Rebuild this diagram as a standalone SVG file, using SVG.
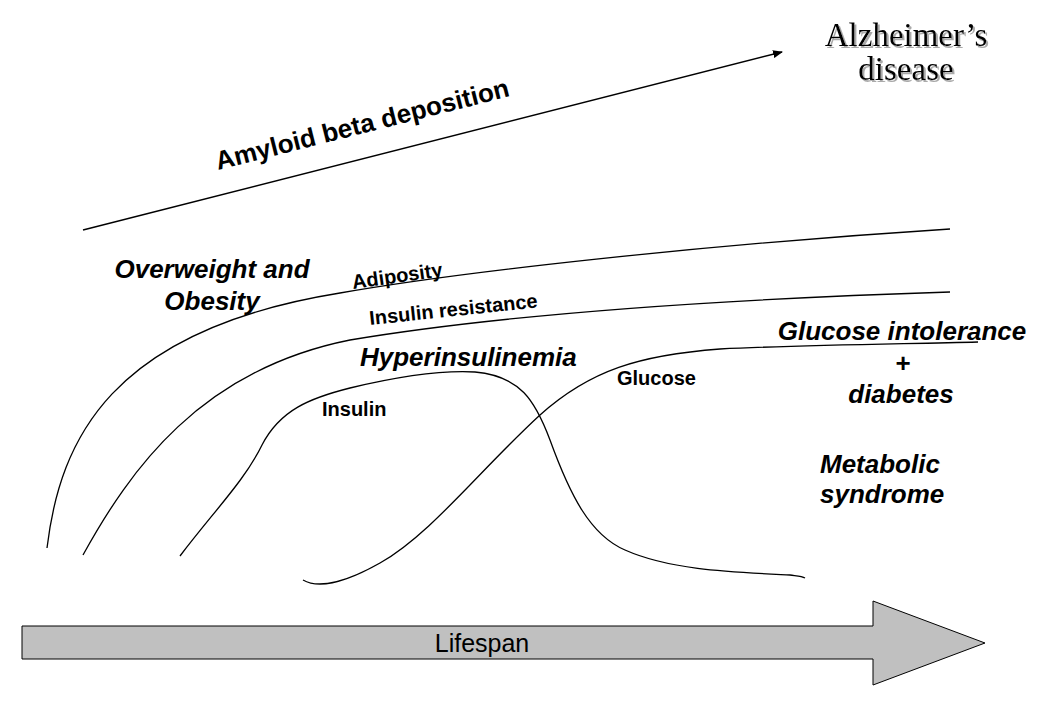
<svg xmlns="http://www.w3.org/2000/svg" width="1050" height="702" viewBox="0 0 1050 702">
<defs>
<marker id="ah" markerWidth="10" markerHeight="8" refX="9" refY="4" orient="auto" markerUnits="userSpaceOnUse">
<path d="M0,0 L10,4 L0,8 Z" fill="#000"/>
</marker>
<filter id="shadow" x="-10%" y="-20%" width="120%" height="140%">
<feOffset in="SourceAlpha" dx="2" dy="2" result="off"/>
<feFlood flood-color="#aaa"/>
<feComposite in2="off" operator="in" result="sh"/>
<feMerge><feMergeNode in="sh"/><feMergeNode in="SourceGraphic"/></feMerge>
</filter>
<style>
.curve{fill:none;stroke:#000;stroke-width:1.3}
.lbl{font-family:"Liberation Sans",Arial,sans-serif;font-weight:bold;font-size:20px;fill:#000}
.big{font-family:"Liberation Sans",Arial,sans-serif;font-weight:bold;font-style:italic;font-size:26px;fill:#000}
.serif{font-family:"Liberation Serif","Times New Roman",serif;font-size:33px;text-anchor:middle;fill:#000}
</style>
</defs>
<rect width="1050" height="702" fill="#fff"/>

<g id="connectors">
<line x1="83" y1="230" x2="782" y2="52" stroke="#000" stroke-width="1.5" marker-end="url(#ah)"/>
<path id="adiposity-curve" class="curve" d="M47,548 C60,440 110,330 340,293 C460,272 700,245 950,229"/>
<path id="resistance-curve" class="curve" d="M83,555 C130,470 200,370 350,340 C500,315 700,300 950,292"/>
<path id="insulin-curve" class="curve" d="M180,556 C215,510 245,480 262,445 C280,410 310,398 350,388 C400,376 440,370 475,372 C520,376 535,400 550,440 C570,495 590,535 625,550 C670,570 730,572 790,575 C798,576 802,576 805,578"/>
<path id="glucose-curve" class="curve" d="M303,580 C320,590 350,580 380,563 C430,535 480,470 540,415 C590,370 640,355 720,349 C800,345 900,344 978,342"/>
</g>

<g id="alzheimers" filter="url(#shadow)">
<text class="serif" x="906" y="46">Alzheimer’s</text>
<text class="serif" x="906" y="80">disease</text>
</g>

<g id="amyloid">
<text transform="translate(218,170) rotate(-14.2)" font-family="'Liberation Sans',Arial,sans-serif" font-weight="bold" font-size="26" fill="#000">Amyloid beta deposition</text>
</g>

<g id="overweight">
<text class="big" x="212" y="278" text-anchor="middle">Overweight and</text>
<text class="big" x="212" y="310" text-anchor="middle">Obesity</text>
</g>

<g id="adiposity">
<text class="lbl" transform="translate(353,289) rotate(-8)">Adiposity</text>
</g>

<g id="insulin-resistance">
<text class="lbl" transform="translate(370,325) rotate(-6)">Insulin resistance</text>
</g>

<g id="hyperinsulinemia">
<text class="big" x="360" y="366" font-size="25">Hyperinsulinemia</text>
</g>

<g id="insulin">
<text class="lbl" x="322" y="416">Insulin</text>
</g>

<g id="glucose">
<text class="lbl" x="617" y="385">Glucose</text>
</g>

<g id="glucose-intolerance">
<text class="big" x="902" y="340" text-anchor="middle">Glucose intolerance</text>
<text x="903" y="372" text-anchor="middle" font-family="'Liberation Sans',Arial,sans-serif" font-weight="bold" font-size="26" fill="#000">+</text>
<text class="big" x="901" y="403" text-anchor="middle">diabetes</text>
</g>

<g id="metabolic">
<text class="big" x="820" y="473">Metabolic</text>
<text class="big" x="820" y="503">syndrome</text>
</g>

<g id="lifespan">
<path d="M22,626 L873,626 L873,601 L985,643 L873,685 L873,659 L22,659 Z" fill="#c0c0c0" stroke="#000" stroke-width="1"/>
<text x="482" y="652" text-anchor="middle" font-family="'Liberation Sans',Arial,sans-serif" font-size="25" fill="#000">Lifespan</text>
</g>
</svg>
